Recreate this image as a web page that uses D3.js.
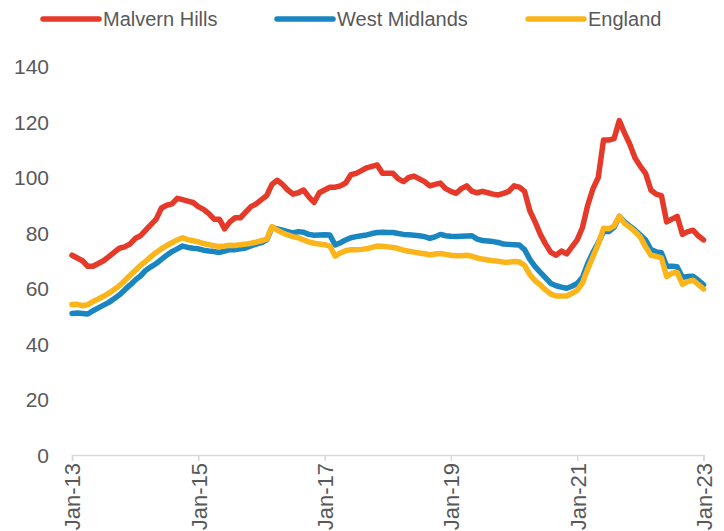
<!DOCTYPE html>
<html>
<head>
<meta charset="utf-8">
<script src="https://cdn.jsdelivr.net/npm/d3@7"></script>
<style>
  body { margin: 0; background: #fff; }
  text { font-family: "Liberation Sans", Arial, sans-serif; fill: #595959; }
</style>
</head>
<body>
<div id="chart"></div>
<script>
var WIDTH = 724;
var HEIGHT = 531;

// monthly values, Jan-13 .. Jan-23 (121 months)
var malvernHills = [
  72, 71, 70, 68, 68, 69, 70, 71.5, 73, 74.5, 75, 76,
  78, 79, 81, 83, 85, 89, 90, 90.5, 92.5, 92, 91.5, 91,
  89.5, 88.5, 87, 85, 85, 81.5, 84, 85.5, 85.5, 87.5, 89.5, 90.5,
  92, 93.5, 97.5, 99, 97.5, 95.5, 94, 94.5, 95.5, 93, 91, 94.5,
  95.5, 96.5, 96.5, 97, 98, 101, 101.5, 102.5, 103.5, 104, 104.5, 101.5,
  101.5, 101.5, 99.5, 98.5, 100, 100.5, 99.5, 98.5, 97, 97.5, 98, 96,
  95, 94.3, 96, 97, 95, 94.5, 95, 94.5, 94, 93.7, 94.3, 95,
  97, 96.5, 95, 88, 84, 79.5, 76, 73, 72, 73.5, 72.5, 75,
  77.5, 82, 90, 96, 100, 113.5, 113.5, 114, 120.5, 116, 112, 107,
  104, 101.5, 95.5, 94, 93.5, 84, 85, 86, 79.5, 80.5, 81, 79,
  77.5
];
var westMidlands = [
  51, 51.2, 51, 50.8, 52, 53, 54, 55, 56.3, 57.7, 59.5, 61.2,
  63, 64.5, 66.5, 67.8, 69, 70.5, 72, 73.3, 74.3, 75.3, 74.8, 74.5,
  74.3, 73.8, 73.5, 73.3, 73, 73.5, 74, 74, 74.3, 74.6, 75.3, 76,
  76.5, 77.5, 82, 81.5, 81, 80.5, 80, 80.5, 80.3, 79.5, 79.2, 79.3,
  79.4, 79.3, 75.7, 76.5, 77.5, 78.3, 78.7, 79, 79.3, 79.8, 80.2, 80.3,
  80.2, 80.2, 79.8, 79.5, 79.4, 79.2, 79, 78.7, 78.1, 78.6, 79.5, 79,
  78.8, 78.7, 78.8, 78.9, 79, 77.8, 77.3, 77.1, 76.9, 76.6, 76, 75.9,
  75.8, 75.7, 74, 70.5, 67.9, 65.8, 63.8, 61.8, 61, 60.5, 60.1, 60.8,
  61.8, 64, 69, 73, 76.5, 80.5, 80.5, 82, 86, 84, 82.5, 81,
  79.3, 77.5, 74, 73.2, 72.9, 68, 68, 67.8, 64, 64.3, 64.4, 63,
  61.3
];
var england = [
  54.2, 54.3, 53.8, 54.2, 55.3, 56.2, 57.2, 58.3, 59.6, 61, 62.8, 64.7,
  66.5, 68.3, 69.8, 71.5, 73, 74.3, 75.5, 76.5, 77.5, 78.3, 77.6, 77.2,
  76.8, 76.2, 75.8, 75.4, 75.1, 75.3, 75.6, 75.5, 75.8, 76, 76.3, 76.7,
  77.2, 77.8, 82.3, 81, 80.1, 79.3, 78.7, 78.3, 77.5, 76.8, 76.3, 76,
  75.8, 75.3, 71.7, 72.8, 73.6, 74, 74, 74.1, 74.3, 74.8, 75.3, 75.2,
  75, 74.8, 74.4, 73.8, 73.4, 73.1, 72.8, 72.5, 72.1, 72.4, 72.6, 72.3,
  72, 71.8, 71.8, 72, 71.6, 71, 70.6, 70.3, 70, 69.8, 69.5, 69.5,
  69.7, 69.6, 68.3, 65, 62.8, 61.3, 59.5, 58, 57.3, 57.3, 57.3, 58.2,
  59.3, 62, 67, 71.5, 76, 81.7, 81.5, 82.5, 86, 83.5, 82, 80.5,
  78.5, 75, 72, 71.6, 71, 64.3, 65.5, 65.8, 61.5, 62.5, 63, 61.5,
  59.8
];

var seriesNames = ["Malvern Hills", "West Midlands", "England"];
var seriesColors = ["#e5392a", "#1a86c1", "#fbb51b"];
var seriesData = [malvernHills, westMidlands, england];

var xTickMonths = [0, 24, 48, 72, 96, 120];
var xTickLabels = ["Jan-13", "Jan-15", "Jan-17", "Jan-19", "Jan-21", "Jan-23"];
var yTicks = [0, 20, 40, 60, 80, 100, 120, 140];

var svg = d3.select("#chart")
    .append("svg")
    .attr("width", WIDTH)
    .attr("height", HEIGHT);

var x = d3.scaleLinear().domain([0, 120]).range([72, 703.5]);
var y = d3.scaleLinear().domain([0, 140]).range([455, 66.5]);

// y labels (no gridlines)
svg.append("g")
    .selectAll("text")
    .data(yTicks)
    .enter()
    .append("text")
    .attr("x", 49)
    .attr("y", function (d) { return y(d); })
    .attr("dy", "0.36em")
    .attr("text-anchor", "end")
    .style("font-size", "21px")
    .text(function (d) { return d; });

// x axis
var xAxis = d3.axisBottom(x)
    .tickValues(xTickMonths)
    .tickSize(6)
    .tickFormat(function (d, i) { return xTickLabels[i]; });

var gx = svg.append("g")
    .attr("transform", "translate(0," + y(0) + ")")
    .call(xAxis);

gx.select(".domain").attr("stroke", "#d9d9d9").attr("stroke-width", 1.5);
gx.selectAll(".tick line").attr("stroke", "#d9d9d9").attr("stroke-width", 1.5);
gx.selectAll(".tick text")
    .attr("transform", "rotate(-90)")
    .attr("text-anchor", "end")
    .attr("x", -8)
    .attr("y", 0)
    .attr("dy", "0.36em")
    .style("font-family", "Liberation Sans, Arial, sans-serif")
    .style("font-size", "22px")
    .attr("fill", "#595959");

// lines
var line = d3.line()
    .x(function (d, i) { return x(i); })
    .y(function (d) { return y(d); });

svg.append("g")
    .selectAll("path")
    .data(seriesData)
    .enter()
    .append("path")
    .attr("d", line)
    .attr("fill", "none")
    .attr("stroke", function (d, i) { return seriesColors[i]; })
    .attr("stroke-width", 5.5)
    .attr("stroke-linejoin", "round")
    .attr("stroke-linecap", "round");

// legend
var legendX = [43, 277, 528];
var lg = svg.append("g")
    .selectAll("g")
    .data(seriesNames)
    .enter()
    .append("g")
    .attr("transform", function (d, i) { return "translate(" + legendX[i] + ",19)"; });

lg.append("line")
    .attr("x1", 0)
    .attr("x2", 56)
    .attr("y1", 0)
    .attr("y2", 0)
    .attr("stroke", function (d, i) { return seriesColors[i]; })
    .attr("stroke-width", 5.5)
    .attr("stroke-linecap", "round");

lg.append("text")
    .attr("x", 60)
    .attr("y", 0)
    .attr("dy", "0.36em")
    .style("font-size", "20px")
    .text(function (d) { return d; });
</script>
</body>
</html>
